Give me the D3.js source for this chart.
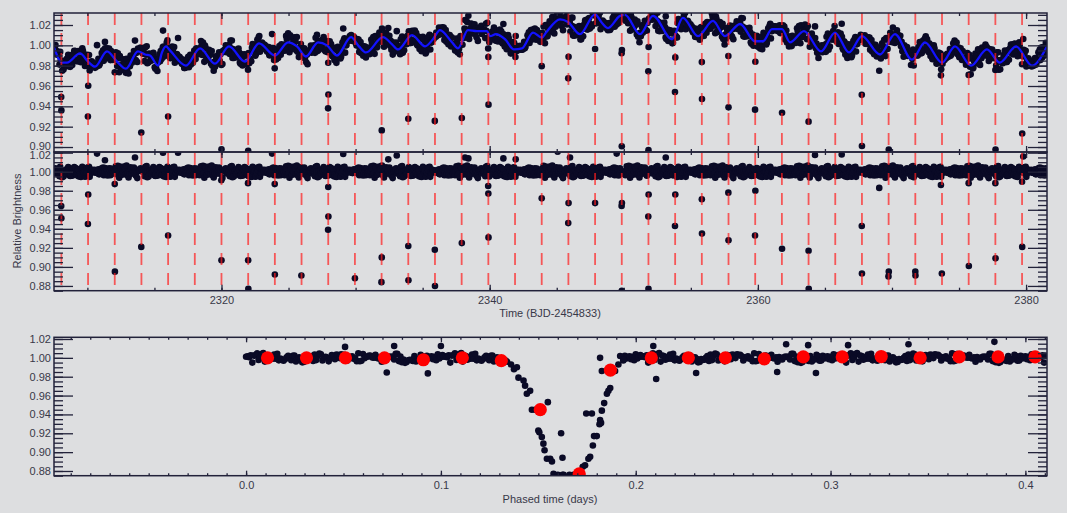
<!DOCTYPE html>
<html><head><meta charset="utf-8">
<script src="https://cdn.jsdelivr.net/npm/d3@7"></script>
<style>
html,body{margin:0;padding:0;background:#dddee0;}
svg{display:block;}
text{font-family:"Liberation Sans",Arial,Helvetica,sans-serif;}
</style></head><body>
<svg id="chart" width="1067" height="513"></svg>
<script>
// ---------------- DATA ----------------
const timeTicks = [2320, 2340, 2360, 2380];
const timeMinorTicks = [2310, 2315, 2320, 2325, 2330, 2335, 2340, 2345, 2350, 2355, 2360, 2365, 2370, 2375, 2380];
const fluxTicksTop = [0.90, 0.92, 0.94, 0.96, 0.98, 1.00, 1.02];
const fluxTicks = [0.88, 0.90, 0.92, 0.94, 0.96, 0.98, 1.00, 1.02];
const phaseTicks = [0.0, 0.1, 0.2, 0.3, 0.4];

// Transit mid-times (red dashed lines)
const transitTimes = [2308.06, 2310.05, 2312.04, 2314.03, 2316.02, 2318.01, 2320.00, 2321.99, 2323.98,
  2325.97, 2327.96, 2329.95, 2331.94, 2333.93, 2335.92, 2337.91, 2339.90, 2341.89, 2343.88, 2345.87,
  2347.86, 2349.85, 2351.84, 2353.83, 2355.82, 2357.81, 2359.80, 2361.79, 2363.78, 2365.77, 2367.76,
  2369.75, 2371.74, 2373.73, 2375.72, 2377.71, 2379.70];

// Smoothed stellar variability (blue curve)
const trendTime = [2307.51, 2308.11, 2308.48, 2309.45, 2310.05, 2310.57, 2311.46, 2312.21, 2312.88, 2313.77,
  2314.30, 2314.67, 2315.27, 2315.56, 2315.86, 2316.16, 2317.35, 2318.40, 2319.52, 2320.56, 2321.75,
  2322.80, 2323.99, 2324.96, 2325.63, 2326.30, 2327.20, 2327.87, 2328.61, 2329.66, 2330.25, 2330.78,
  2332.04, 2332.72, 2333.16, 2334.21, 2335.18, 2335.77, 2336.29, 2337.19, 2337.64, 2338.38, 2339.05,
  2339.80, 2340.02, 2340.47, 2341.14, 2341.81, 2342.41, 2343.23, 2343.90, 2344.20, 2345.24, 2345.84,
  2346.73, 2347.85, 2348.38, 2348.82, 2349.72, 2350.09, 2351.21, 2352.18, 2353.59, 2354.41, 2355.53,
  2356.65, 2357.54, 2358.67, 2359.78, 2360.38, 2361.05, 2361.80, 2362.39, 2363.44, 2364.71, 2365.75,
  2366.80, 2367.76, 2369.11, 2370.22, 2371.49, 2372.46, 2373.73, 2374.70, 2375.89, 2377.08, 2378.05,
  2379.25, 2380.44, 2381.56];
const trendFlux = [0.998, 0.983, 0.983, 0.992, 0.984, 0.979, 0.994, 0.984, 0.977, 0.994,
  0.991, 0.990, 0.980, 0.993, 0.999, 0.995, 0.980, 0.997, 0.982, 0.999, 0.984,
  1.002, 0.990, 1.003, 0.999, 0.989, 1.003, 1.000, 0.990, 1.008, 0.999, 0.993,
  1.008, 1.001, 0.996, 1.010, 0.999, 1.006, 1.015, 1.003, 0.997, 1.015, 1.014,
  1.014, 1.009, 1.011, 1.006, 0.996, 0.997, 1.0125, 1.0076, 1.0125, 1.0256, 1.023,
  1.011, 1.0305, 1.022, 1.017, 1.029, 1.030, 1.011, 1.029, 1.006, 1.027, 1.009,
  1.024, 1.009, 1.021, 1.004, 1.004, 1.016, 1.016, 1.003, 1.014, 0.994, 1.0125,
  0.993, 1.009, 0.991, 1.011, 0.986, 1.003, 0.983, 0.999, 0.980, 0.996, 0.983,
  0.999, 0.980, 0.999];

// Photometric scatter around the trend (parts per thousand), read as the band width
const scatterPpt = [1.2,-2.8,0.4,3.6,-1.1,-4.2,2.3,0.9,-0.6,4.8,-3.1,1.7,-2.2,0.1,3.0,-5.0,2.6,-0.8,1.4,-3.7,
  4.1,-1.6,0.7,-2.5,3.3,-0.3,-4.6,2.0,1.0,-1.9,5.2,-2.9,0.5,2.8,-3.4,-0.1,3.9,-1.3,-2.0,1.6,
  4.4,-3.8,0.2,2.2,-5.3,1.9,-0.7,3.1,-2.4,0.8,-1.5,4.6,-3.3,1.3,-0.4,2.5,-4.0,0.6,3.5,-2.1,
  -0.9,1.1,-3.6,4.2,0.3,-2.7,2.9,-1.2,-4.4,1.8,0.0,3.7,-2.6,1.5,-0.5,-3.9,2.4,5.0,-1.8,0.9,
  -3.0,2.1,-1.0,4.0,-4.8,1.4,-0.2,2.7,-2.3,3.4,-1.4,0.6,-3.5,4.5,-0.6,-2.0,1.2,3.2,-4.1,0.4,
  2.0,-1.7,-0.3,3.8,-2.8,1.0,-5.6,2.6,0.2,-1.1,4.3,-3.2,0.7,1.7,-2.5,-0.8,3.0,-4.5,2.3,-1.6,
  0.5,5.4,-3.0,1.5,-0.9,2.2,-2.1];
// band half-widths (relative to the typed scatter)
const scatterScaleRaw = 1.7, scatterScaleDetrended = 1.2, scatterScaleFolded = 0.95;
const cadenceStart = 2307.52, cadenceStep = 0.05, cadenceEnd = 2381.6;

// In-transit (detrended) points: index into transitTimes, flux
const dipIndex = [0,0,1,1,2,2,3,4,4,6,6,6,7,7,7,8,8,8,9,10,10,10,11,12,12,13,13,14,14,15,16,16,16,16,
  18,19,19,20,21,21,21,22,22,22,23,23,24,24,25,25,26,26,26,27,27,28,28,30,30,31,31,32,32,33,34,34,34,35,35,35,36,36];
const dipFlux = [0.964,0.951,0.976,0.945,0.987,0.895,0.921,0.933,0.872,0.991,0.907,0.872,0.988,0.907,0.877,0.987,0.892,0.872,0.891,0.984,0.953,0.939,0.888,0.910,0.884,0.922,0.886,0.918,0.880,0.925,0.985,0.977,0.931,0.872,
  0.972,0.967,0.946,0.967,0.967,0.964,0.875,0.976,0.953,0.877,0.976,0.943,0.971,0.935,0.978,0.928,0.980,0.933,0.872,0.919,0.872,0.917,0.877,0.943,0.893,0.895,0.890,0.895,0.891,0.893,0.988,0.901,0.872,0.988,0.909,0.872,0.9895,0.921];

// Out-of-transit outliers (detrended)
const outlierTime = [2310.72, 2311.31, 2313.55, 2315.64, 2316.76, 2323.77, 2329.08, 2332.44, 2333.07, 2338.16,
  2338.41, 2341.02, 2341.94, 2345.07, 2345.99, 2349.47, 2353.13, 2364.26, 2366.25, 2379.79, 2369.05, 2373.65];
const outlierFlux = [1.019, 1.012, 1.015, 1.020, 1.020, 1.019, 1.0186, 1.013, 1.017, 1.015,
  1.014, 1.014, 1.013, 1.021, 1.015, 1.019, 1.015, 1.0175, 1.018, 1.016, 0.983, 0.986];

// Phase-folded light curve: in-transit points
const foldPhase = [0.134,0.136,0.1375,0.139,0.1398,0.1424,0.1432,0.1441,0.1458,0.1467,0.1484,0.1549,0.150,0.1505,0.1518,0.1526,0.1532,0.1544,0.1561,0.157,
  0.1617,0.1624,0.1578,0.160,0.1624,0.163,0.166,0.168,0.170,0.1728,0.174,0.1757,0.1766,0.178,0.1786,0.180,0.1775,0.1746,0.1817,0.1822,
  0.1814,0.1826,0.1838,0.1852,0.1860,0.1869,0.1817,0.1826,0.1894,0.1911,0.192,0.1937];
const foldFlux = [0.996,0.993,0.988,0.990,0.979,0.976,0.9705,0.962,0.965,0.945,0.945,0.953,0.923,0.921,0.916,0.909,0.902,0.893,0.893,0.890,
  0.920,0.894,0.877,0.876,0.876,0.876,0.876,0.876,0.876,0.8845,0.886,0.893,0.895,0.907,0.917,0.917,0.941,0.941,0.934,0.931,
  0.9295,0.944,0.952,0.962,0.965,0.968,1.000,0.986,0.986,0.993,1.002,0.998];
// Phase-folded outliers
const foldOutPhase = [0.0722, 0.2726, 0.2925, 0.2772, 0.340, 0.3841, 0.2885, 0.309, 0.100, 0.2105, 0.0933, 0.231, 0.209, 0.0508, 0.076];
const foldOutFlux = [0.9845, 0.985, 0.984, 1.0144, 1.0144, 1.017, 1.0135, 1.0135, 1.0126, 0.9776, 0.9835, 0.984, 1.0126, 1.0116, 1.0126];
const foldStart = 0.0, foldStep = 0.0008, foldEnd = 0.411, foldGapStart = 0.133, foldGapEnd = 0.193;

// Binned phase curve (red)
const binPhase = [0.011, 0.031, 0.051, 0.071, 0.091, 0.111, 0.131, 0.151, 0.171, 0.187, 0.208, 0.227, 0.246,
  0.266, 0.286, 0.306, 0.326, 0.346, 0.366, 0.386, 0.405];
const binFlux = [1.000, 1.000, 1.000, 1.000, 0.998, 1.000, 0.997, 0.945, 0.877, 0.987, 1.000, 1.000, 1.000,
  0.999, 1.001, 1.001, 1.0014, 1.000, 1.001, 1.001, 1.001];

// ---------------- DRAWING ----------------
const svg = d3.select("#chart");
const BG = "#dddee0", INK = "#22223a", TXT = "#383848", DOT = "#0a0a26";
svg.append("rect").attr("width", 1067).attr("height", 513).attr("fill", BG);

const X0 = 54, X1 = 1047;
const xT = d3.scaleLinear().domain([2307.51, 2381.56]).range([X0, X1]);
const xP = d3.scaleLinear().domain([-0.0986, 0.4111]).range([X0, X1]);
const yTop = d3.scaleLinear().domain([0.8951, 1.0318]).range([152, 13]);
const yMid = d3.scaleLinear().domain([0.875, 1.0207]).range([290.7, 152]);
const yBot = d3.scaleLinear().domain([0.875, 1.0218]).range([475.7, 337.3]);

const defs = svg.append("defs");
function clip(id, y0, y1) {
  defs.append("clipPath").attr("id", id).append("rect")
    .attr("x", X0).attr("y", y0).attr("width", X1 - X0).attr("height", y1 - y0);
}
clip("cTop", 13, 152); clip("cMid", 152, 290.7); clip("cBot", 337.3, 475.7);

// trend interpolation
const bis = d3.bisector(d => d).left;
function trendAt(t) {
  let i = bis(trendTime, t);
  if (i <= 0) return trendFlux[0];
  if (i >= trendTime.length) return trendFlux[trendFlux.length - 1];
  const t0 = trendTime[i - 1], t1 = trendTime[i];
  return d3.interpolateNumber(trendFlux[i - 1], trendFlux[i])((t - t0) / (t1 - t0));
}

// build light curve points
const lc = [];
let k = 0;
for (let t = cadenceStart; t <= cadenceEnd; t += cadenceStep, k++) {
  const nearTransit = transitTimes.some(tt => Math.abs(tt - t) < 0.03);
  if (nearTransit) continue;
  const s = scatterPpt[(k * 7) % scatterPpt.length] / 1000;
  lc.push({ t: t, raw: trendAt(t) * (1 + scatterScaleRaw * s), f: 1 + scatterScaleDetrended * s });
}
dipIndex.forEach((ti, i) => {
  const t = transitTimes[ti] + ((i % 3) - 1) * 0.012;
  lc.push({ t: t, raw: dipFlux[i] * trendAt(t), f: dipFlux[i] });
});
outlierTime.forEach((t, i) => lc.push({ t: t, raw: outlierFlux[i] * trendAt(t), f: outlierFlux[i] }));

const R = 3.3;
const gTop = svg.append("g").attr("clip-path", "url(#cTop)");
gTop.selectAll("circle").data(lc).join("circle")
  .attr("cx", d => xT(d.t)).attr("cy", d => yTop(d.raw)).attr("r", R).attr("fill", DOT);
gTop.append("path").datum(trendTime.map((t, i) => [t, trendFlux[i]]))
  .attr("fill", "none").attr("stroke", "#1212ff").attr("stroke-width", 2.3)
  .attr("d", d3.line().x(d => xT(d[0])).y(d => yTop(d[1])).curve(d3.curveMonotoneX));

const gMid = svg.append("g").attr("clip-path", "url(#cMid)");
gMid.selectAll("circle").data(lc).join("circle")
  .attr("cx", d => xT(d.t)).attr("cy", d => yMid(d.f)).attr("r", R).attr("fill", DOT);

// red dashed transit markers across both panels
svg.append("g").selectAll("line").data(transitTimes).join("line")
  .attr("x1", d => xT(d)).attr("x2", d => xT(d)).attr("y1", 13).attr("y2", 290.7)
  .attr("stroke", "#ff1e1e").attr("stroke-opacity", 0.7).attr("stroke-width", 1.8)
  .attr("stroke-dasharray", "12,8");

// folded panel
const fold = [];
k = 0;
for (let p = foldStart; p <= foldEnd; p += foldStep, k++) {
  if (p > foldGapStart && p < foldGapEnd) continue;
  fold.push({ p: p, f: 1 + scatterScaleFolded * scatterPpt[(k * 11) % scatterPpt.length] / 1000 });
}
foldPhase.forEach((p, i) => fold.push({ p: p, f: foldFlux[i] }));
foldOutPhase.forEach((p, i) => fold.push({ p: p, f: foldOutFlux[i] }));
const gBot = svg.append("g").attr("clip-path", "url(#cBot)");
gBot.selectAll("circle.f").data(fold).join("circle").attr("class", "f")
  .attr("cx", d => xP(d.p)).attr("cy", d => yBot(d.f)).attr("r", R).attr("fill", DOT);
gBot.selectAll("circle.b").data(binPhase).join("circle").attr("class", "b")
  .attr("cx", d => xP(d)).attr("cy", (d, i) => yBot(binFlux[i])).attr("r", 6.6).attr("fill", "#ff0000");

// ---------------- AXES ----------------
function styleAxis(g) {
  g.select(".domain").remove();
  g.selectAll("line").attr("stroke", INK).attr("stroke-width", 1.3);
  g.selectAll("text").attr("fill", TXT).attr("font-size", 11);
}
function minorVals(lo, hi, step) {
  const out = [];
  for (let v = lo; v <= hi + 1e-9; v += step) out.push(+v.toFixed(4));
  return out;
}
function yAxes(y, majors, lo, hi, nudge) {
  const minors = minorVals(lo, hi, 0.005).filter(v => v >= y.domain()[0] && v <= y.domain()[1]);
  svg.append("g").attr("transform", `translate(${X0},0)`)
    .call(d3.axisLeft(y).tickValues(minors).tickSize(-9).tickFormat("")).call(styleAxis);
  const g = svg.append("g").attr("transform", `translate(${X0},0)`)
    .call(d3.axisLeft(y).tickValues(majors).tickSize(-19).tickPadding(3).tickFormat(d3.format(".2f"))).call(styleAxis);
  if (nudge) g.selectAll(".tick text").attr("y", d => nudge[d.toFixed(2)] || 0);
  svg.append("g").attr("transform", `translate(${X1},0)`)
    .call(d3.axisRight(y).tickValues(minors).tickSize(-9).tickFormat("")).call(styleAxis);
  svg.append("g").attr("transform", `translate(${X1},0)`)
    .call(d3.axisRight(y).tickValues(majors).tickSize(-19).tickFormat("")).call(styleAxis);
}
yAxes(yTop, fluxTicksTop, 0.895, 1.03, { "0.90": -1.5 });
yAxes(yMid, fluxTicks, 0.875, 1.02, { "1.02": 2.8 });
yAxes(yBot, fluxTicks, 0.875, 1.02);

// time axes
function xAxesTime(yPos, dir, labels) {
  const mk = () => dir === "bottom" ? d3.axisBottom(xT) : d3.axisTop(xT);
  svg.append("g").attr("transform", `translate(0,${yPos})`)
    .call(mk().tickValues(timeMinorTicks).tickSize(-3).tickFormat("")).call(styleAxis);
  svg.append("g").attr("transform", `translate(0,${yPos})`)
    .call(mk().tickValues(timeTicks).tickSize(-6).tickPadding(6).tickFormat(labels ? d3.format("d") : "")).call(styleAxis);
}
xAxesTime(290.7, "bottom", true);
xAxesTime(13, "top", false);
xAxesTime(152, "bottom", false);
xAxesTime(152, "top", false);

// phase axes
const phaseMinor = minorVals(-0.09, 0.41, 0.01);
[["bottom", 475.7, true], ["top", 337.3, false]].forEach(([dir, yPos, lab]) => {
  const mk = () => dir === "bottom" ? d3.axisBottom(xP) : d3.axisTop(xP);
  svg.append("g").attr("transform", `translate(0,${yPos})`)
    .call(mk().tickValues(phaseMinor).tickSize(-2.5).tickFormat("")).call(styleAxis);
  svg.append("g").attr("transform", `translate(0,${yPos})`)
    .call(mk().tickValues(phaseTicks).tickSize(-5).tickPadding(6)
      .tickFormat(lab ? d3.format(".1f") : "")).call(styleAxis);
});

// frames
[[13, 152], [152, 290.7], [337.3, 475.7]].forEach(([a, b]) => {
  svg.append("rect").attr("x", X0).attr("y", a).attr("width", X1 - X0).attr("height", b - a)
    .attr("fill", "none").attr("stroke", INK).attr("stroke-width", 1.5);
});

// titles
svg.append("text").attr("x", 550).attr("y", 317).attr("text-anchor", "middle")
  .attr("font-size", 11).attr("fill", TXT).text("Time (BJD-2454833)");
svg.append("text").attr("x", 550).attr("y", 503).attr("text-anchor", "middle")
  .attr("font-size", 11).attr("fill", TXT).text("Phased time (days)");
svg.append("text").attr("transform", "translate(21,221) rotate(-90)").attr("text-anchor", "middle")
  .attr("font-size", 11).attr("fill", TXT).text("Relative Brightness");
</script></body></html>
